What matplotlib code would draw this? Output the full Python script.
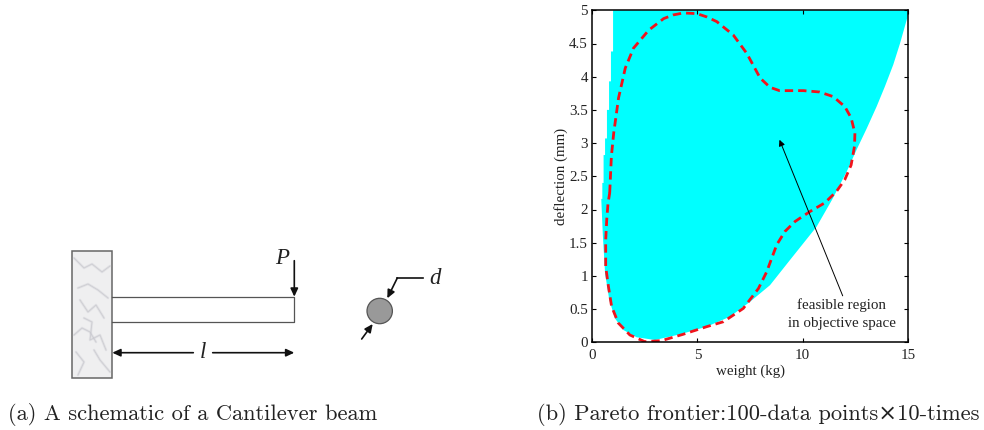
import matplotlib
matplotlib.use("Agg")
import matplotlib.pyplot as plt
from matplotlib.patches import Rectangle, Circle

# ---- data ----
region_w = [1.0, 1.0, 0.9, 0.9, 0.81, 0.81, 0.71, 0.71, 0.62, 0.62, 0.55, 0.55, 0.49, 0.49, 0.44, 0.51, 0.62, 0.82,
            1.09, 1.49, 2.12, 2.99, 4.18, 5.44, 6.55, 7.5, 8.45, 9.4, 10.66, 11.4, 12.09, 12.56, 13.04, 13.51,
            13.9, 14.3, 14.62, 14.96, 15.0, 15.0]
region_d = [5.0, 4.38, 4.38, 3.93, 3.93, 3.5, 3.5, 3.07, 3.07, 2.82, 2.82, 2.4, 2.4, 2.16, 2.16, 1.64, 1.04, 0.64,
            0.36, 0.185, 0.075, 0.035, 0.12, 0.235, 0.385, 0.61, 0.86, 1.24, 1.74, 2.15, 2.57, 2.9, 3.22, 3.55,
            3.85, 4.18, 4.5, 4.88, 4.95, 5.0]
front_w = [0.84, 0.92, 1.03, 1.26, 1.58, 1.97, 2.69, 3.4, 3.85, 4.34, 4.98, 5.45, 5.92, 6.7, 7.35, 7.98, 8.45, 8.9, 10.03,
           10.8, 11.45, 12.0, 12.3, 12.48, 12.46, 12.3, 12.0, 11.6, 11.05, 10.35, 9.64, 9.16, 8.77, 8.29, 7.9,
           7.18, 6.24, 5.44, 4.32, 3.3, 2.5, 1.8, 1.25, 0.93, 0.78, 0.65, 0.65, 0.7, 0.76, 0.84]
front_d = [2.25, 2.8, 3.15, 3.68, 4.13, 4.43, 4.7, 4.875, 4.93, 4.96, 4.95, 4.9, 4.83, 4.63, 4.35, 3.98, 3.84, 3.79, 3.79,
           3.77, 3.7, 3.55, 3.38, 3.15, 2.95, 2.67, 2.45, 2.27, 2.1, 1.97, 1.82, 1.67, 1.47, 1.06, 0.81,
           0.51, 0.31, 0.235, 0.12, 0.025, 0.01, 0.11, 0.29, 0.54, 0.84, 1.14, 1.54, 1.85, 2.09, 2.25]
x_ticks = [0, 5, 10, 15]
y_ticks = [0, 0.5, 1, 1.5, 2, 2.5, 3, 3.5, 4, 4.5, 5]
y_labels = ["0", "0.5", "1", "1.5", "2", "2.5", "3", "3.5", "4", "4.5", "5"]

W, H = 984, 430
SERIF = "Liberation Serif"
CM = ["cmr10", "DejaVu Serif"]
INK = "#222222"
plt.rcParams["axes.unicode_minus"] = False
fig = plt.figure(figsize=(W / 100, H / 100), dpi=100)

# ---- right panel ----
ax = fig.add_axes([592 / W, 1 - 342.3 / H, 316 / W, 332 / H])
ax.fill(region_w, region_d, color="#00ffff", lw=0)
ax.plot(front_w, front_d, color="#f0141c", lw=2.0, dashes=(3.0, 1.8))
ax.set_xlim(0, 15)
ax.set_ylim(0, 5)
ax.set_xticks(x_ticks)
ax.set_yticks(y_ticks, y_labels)
ax.tick_params(axis="y", direction="in", right=True, length=3, width=0.8, labelsize=10.8, pad=3, labelcolor=INK)
ax.tick_params(axis="x", direction="in", top=True, length=3, width=0.8, labelsize=10.8, pad=5, labelcolor=INK)
for lab in ax.get_xticklabels() + ax.get_yticklabels():
    lab.set_family(SERIF)
for s in ax.spines.values():
    s.set_linewidth(1.1)
ax.set_xlabel("weight (kg)", family=SERIF, fontsize=10.8, labelpad=1.5, color=INK)
ax.set_ylabel("deflection (mm)", family=SERIF, fontsize=10.8, labelpad=1, color=INK)
ax.annotate("", xy=(8.9, 3.05), xytext=(11.9, 0.70),
            arrowprops=dict(arrowstyle="-|>", color="black", lw=0.7, mutation_scale=9, shrinkA=0, shrinkB=0))
ax.text(11.82, 0.555, "feasible region", family=SERIF, fontsize=10.8, ha="center", va="center", color=INK)
ax.text(11.88, 0.28, "in objective space", family=SERIF, fontsize=10.8, ha="center", va="center", color=INK)

# ---- schematic overlay in pixel space ----
ov = fig.add_axes([0, 0, 1, 1], zorder=-1)
ov.set_xlim(0, W)
ov.set_ylim(H, 0)
ov.axis("off")
ov.add_patch(Rectangle((71.7, 251), 40.6, 126.7, fc="#efeff0", ec="#666666", lw=1.1))
veins = [([74, 84, 92, 102, 110], [258, 268, 264, 272, 266]),
         ([78, 88, 98, 108], [288, 284, 290, 298]),
         ([80, 88, 96, 104], [300, 312, 305, 318]),
         ([84, 92, 90, 100, 106], [318, 322, 340, 335, 350]),
         ([74, 82, 90, 96], [335, 328, 332, 342]),
         ([94, 100, 110], [350, 360, 372]),
         ([76, 84, 78], [352, 362, 375])]
for vx, vy in veins:
    ov.plot(vx, vy, color="#d4d4da", lw=1.8, alpha=0.5, solid_capstyle="round")
    ov.plot(vx, vy, color="#c0c0c6", lw=0.6, alpha=0.6)
ov.plot([112.3, 294.3, 294.3, 112.3], [296.7, 296.7, 321.7, 321.7], color="#555555", lw=0.9)
ov.add_patch(Circle((379.7, 311), 12.7, fc="#999999", ec="#555555", lw=0.9))

def arrow(p0, p1, ms=8):
    ov.annotate("", xy=p1, xytext=p0,
                arrowprops=dict(arrowstyle="-|>,head_length=0.6,head_width=0.28", color="#111111", lw=1.2,
                                mutation_scale=ms, shrinkA=0, shrinkB=0))

arrow((294.3, 260.7), (294.3, 296.7))
arrow((193.3, 352.7), (112.3, 352.7))
arrow((212.7, 352.7), (294.3, 352.7))
ov.plot([423.3, 397.3], [278, 278], color="#111111", lw=1.2)
arrow((397.3, 278), (387.3, 298.3))
arrow((361.7, 339), (372.7, 324))
ital = dict(family=SERIF, style="italic", fontsize=16.5, ha="center", va="center", color=INK)
ov.text(282, 259, "P", **ital)
ov.text(203.3, 353, "l", **ital)
ov.text(435, 279, "d", **ital)

# ---- captions ----
ov.text(8, 415, "(a) A schematic of a Cantilever beam", family=CM, fontsize=16.2, va="center", ha="left", color=INK)
ov.text(537, 415, "(b) Pareto frontier:100-data points×10-times", family=CM, fontsize=16.2, va="center", ha="left", color=INK)

fig.savefig("out.png", dpi=100)
